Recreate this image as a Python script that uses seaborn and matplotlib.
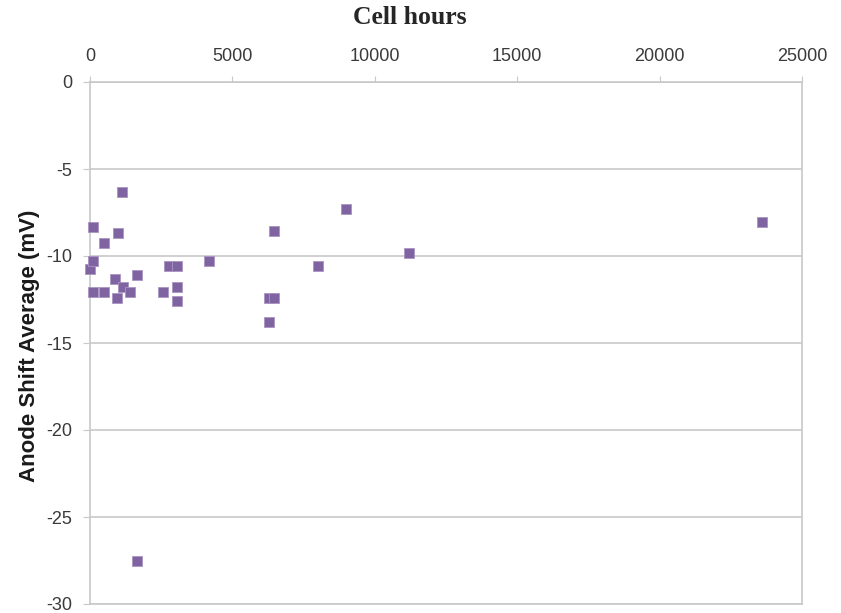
import matplotlib
matplotlib.use("Agg")
import matplotlib.pyplot as plt
import seaborn as sns
import pandas as pd

# cell hours vs. anode shift average
cell_hours = [12, 94, 94, 94, 480, 492, 1112, 995, 890, 1638, 1638, 1147, 1404, 936,
              2575, 2770, 3060, 3043, 3043, 4178, 6302, 6478, 6296, 8017, 6472, 9000,
              11201, 23596]
anode_shift = [-10.77, -8.31, -10.27, -12.07, -9.27, -12.07, -6.32, -8.68, -11.32, -11.07,
               -27.5, -11.8, -12.07, -12.4, -12.07, -10.55, -10.55, -11.8, -12.56, -10.29,
               -12.4, -12.4, -13.79, -10.55, -8.54, -7.3, -9.81, -8.05]

x_ticks = [0, 5000, 10000, 15000, 20000, 25000]
y_ticks = [0, -5, -10, -15, -20, -25, -30]

df = pd.DataFrame({'hours': cell_hours, 'shift': anode_shift})

sns.set_style('white')
plt.rcParams['font.family'] = ['Liberation Sans', 'DejaVu Sans']
plt.rcParams['axes.unicode_minus'] = False

fig = plt.figure(figsize=(8.41, 6.13), dpi=100)
ax = fig.add_axes([90 / 841, 1 - 604 / 613, 712 / 841, 522 / 613])

sns.scatterplot(data=df, x='hours', y='shift', marker='s', s=50,
                color='#8064A2', edgecolor='#a996c4', linewidth=0.6, ax=ax,
                zorder=3, clip_on=False)

grid_c = '#c8c8c8'
ax.set_xlim(0, 25000)
ax.set_ylim(-30, 0)
ax.set_xticks(x_ticks)
ax.set_yticks(y_ticks)
ax.xaxis.tick_top()
ax.set_xlabel('')
ax.set_ylabel('')
ax.grid(axis='y', color=grid_c, linewidth=1.2)
ax.grid(axis='x', visible=False)
for s in ax.spines.values():
    s.set_color(grid_c)
    s.set_linewidth(1.2)
ax.tick_params(axis='x', top=True, bottom=False, length=4, color=grid_c,
               pad=8, labelsize=13, labelcolor='#3a3a3a')
ax.tick_params(axis='y', left=True, length=5, color=grid_c,
               pad=8, labelsize=13, labelcolor='#3a3a3a')

fig.text(30 / 841, 1 - 346 / 613, 'Anode Shift Average (mV)', rotation=90,
         ha='center', va='center', fontsize=16, fontweight='bold', color='#1a1a1a')
fig.text(410 / 841, 1 - 18 / 613, 'Cell hours', ha='center', va='center',
         fontsize=18.5, fontweight='bold', family=['Liberation Serif', 'DejaVu Serif'])

fig.savefig('out.png', dpi=100)
